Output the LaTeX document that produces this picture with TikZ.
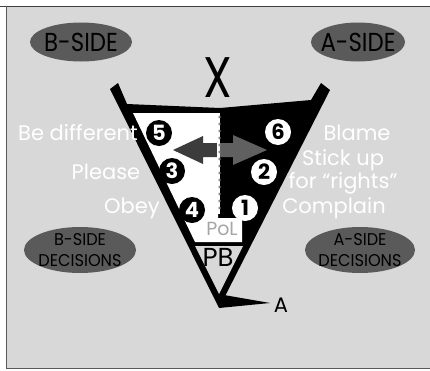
\documentclass[tikz,border=0pt]{standalone}
\usepackage{fontspec}
\setmainfont{Poppins}
\usepackage{graphicx}
\usetikzlibrary{shapes.geometric}
\definecolor{bg}{HTML}{D8D8D8}
\definecolor{ellc}{HTML}{5A5A5A}
\definecolor{arrL}{HTML}{3C3C3C}
\definecolor{arrR}{HTML}{606060}
\tikzset{
  lbl/.style={text=white, inner sep=0, font=\fontsize{21}{21}\selectfont},
  ellshape/.style={ellipse, fill=ellc, inner sep=0},
  elltxt/.style={inner sep=0, align=center},
  bnum/.style={circle, fill=black, text=white, inner sep=0, minimum size=26pt,
     font=\bfseries\fontsize{21}{21}\selectfont},
  wnum/.style={circle, fill=white, text=black, inner sep=0, minimum size=26pt,
     font=\bfseries\fontsize{21}{21}\selectfont},
}
\begin{document}
\begin{tikzpicture}[x=1pt, y=-1pt]
\useasboundingbox (0,0) rectangle (430,370);
% frame
\fill[bg] (6,6) rectangle (430,368);
\draw[black!75, line width=1pt] (0,6) -- (430,6);
\draw[black!65, line width=1pt] (6,6) -- (6,368) -- (430,368);
% ellipses
\node[ellshape, minimum width=102pt, minimum height=39pt] (bside) at (81,42) {};
\node[ellshape, minimum width=94pt, minimum height=39pt] (aside) at (358,42) {};
\node[ellshape, minimum width=112pt, minimum height=46pt] (bdec) at (80,250) {};
\node[ellshape, minimum width=110pt, minimum height=46pt] (adec) at (360,250) {};
\node[elltxt, font=\fontsize{26}{26}\selectfont] (bsidet) at (bside.center) {\scalebox{0.88}[1]{B-SIDE}};
\node[elltxt, font=\fontsize{26}{26}\selectfont] (asidet) at (aside.center) {\scalebox{0.88}[1]{A-SIDE}};
\node[elltxt, font=\fontsize{17}{21}\selectfont] (bdect) at (bdec.center) {\scalebox{0.95}[1]{B-SIDE}\\\scalebox{0.95}[1]{DECISIONS}};
\node[elltxt, font=\fontsize{17}{21}\selectfont] (adect) at (adec.center) {\scalebox{0.95}[1]{A-SIDE}\\\scalebox{0.95}[1]{DECISIONS}};
% main black shape
\fill[black] (110,89) -- (118,83) -- (127,104) -- (220,108) -- (311,100) -- (321,83)
   -- (330,90) -- (219,308) -- cycle;
% white B-side region
\fill[white] (133,113) -- (218,113) -- (218,218) -- (242,218) -- (242,242) -- (195,242) -- cycle;
% PB inner triangle
\fill[bg] (195,246) -- (243,246) -- (219,294) -- cycle;
% spike to A
\fill[black] (219,308) -- (224,295) -- (270,303) -- cycle;
% double arrow
\fill[arrL] (173,150) -- (203,136) -- (203,143) -- (218,143) -- (218,157) -- (203,157) -- (203,164) -- cycle;
\fill[arrR] (218,143) -- (233,143) -- (233,135) -- (267,150) -- (233,165) -- (233,157) -- (218,157) -- cycle;
% divider
\fill[white] (217,113) rectangle (220,214);
\foreach \yy in {117,124,...,213} \fill[black!45] (219.5,\yy) circle (1.4pt);
% numbers
\node[bnum] (n5) at (159,133) {5};
\node[bnum] (n3) at (172,171) {3};
\node[bnum] (n4) at (192,210) {4};
\node[wnum] (n6) at (278,132) {6};
\node[wnum] (n2) at (264,172) {2};
\node[wnum] (n1) at (245,208) {1};
% labels
\node[lbl] (l5) at (78,133) {Be different};
\node[lbl] (l3) at (106,172) {Please};
\node[lbl] (l4) at (132,208) {Obey};
\node[lbl] (l6) at (357,133) {Blame};
\node[lbl] (l2a) at (343,160) {Stick up};
\node[lbl] (l2b) at (343,183) {for ``rights''};
\node[lbl] (l1) at (334,208) {Complain};
\node[inner sep=0, font=\fontsize{19}{19}\selectfont, text=black!35] (pol) at (222,229) {PoL};
\node[inner sep=0, font=\fontsize{26}{26}\selectfont] (pb) at (218,257) {PB};
\node[inner sep=0, font=\fontsize{21}{21}\selectfont] (a) at (281,305) {A};
\node[inner sep=0, font=\fontsize{44}{44}\selectfont] (x) at (218,78) {\scalebox{1.05}[1.3]{X}};
\end{tikzpicture}
\end{document}
